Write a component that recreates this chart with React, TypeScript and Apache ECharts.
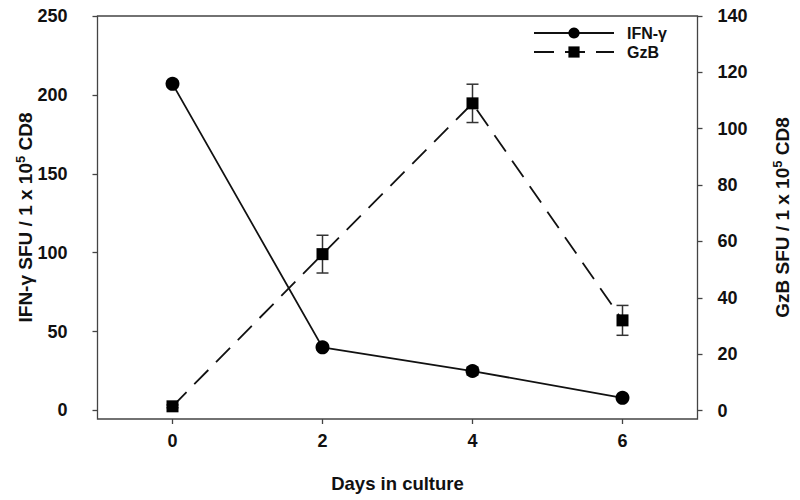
import React, { useEffect, useRef } from "react";
import * as echarts from "echarts";

const days = [0, 2, 4, 6];
const ifnValues = [207, 40, 25, 8];
const ifnErrors = [1, 1.5, 2.5, 1];
const gzbValues = [1.5, 55.5, 109, 32];
const gzbErrors = [0.5, 6.7, 6.8, 5.3];
const xTicks = [0, 2, 4, 6];
const leftTicks = [0, 50, 100, 150, 200, 250];
const rightTicks = [0, 20, 40, 60, 80, 100, 120, 140];

const FONT = "'Liberation Sans', Arial, sans-serif";

export default function App() {
  const ref = useRef<HTMLDivElement>(null);
  useEffect(() => {
    const chart = echarts.init(ref.current!, null, { renderer: "svg" });
    const errData = (vals: number[], errs: number[]) =>
      days.map((d, i) => [d, vals[i] - errs[i], vals[i] + errs[i]]);
    const errRender = (params: any, api: any) => {
      const x = api.value(0);
      const lo = api.coord([x, api.value(1)]);
      const hi = api.coord([x, api.value(2)]);
      const hw = 6;
      const style = { stroke: "#333", lineWidth: 1.5 };
      return {
        type: "group",
        children: [
          { type: "line", shape: { x1: lo[0], y1: lo[1], x2: hi[0], y2: hi[1] }, style },
          { type: "line", shape: { x1: lo[0] - hw, y1: lo[1], x2: lo[0] + hw, y2: lo[1] }, style },
          { type: "line", shape: { x1: hi[0] - hw, y1: hi[1], x2: hi[0] + hw, y2: hi[1] }, style },
        ],
      };
    };
    const labelStyle = { fontFamily: FONT, fontWeight: "bold" as const, fontSize: 18, color: "#111" };
    const nameRich = {
      b: { fontFamily: FONT, fontWeight: "bold", fontSize: 19, color: "#111", lineHeight: 24 },
      sup: { fontFamily: FONT, fontWeight: "bold", fontSize: 13, color: "#111", verticalAlign: "top", lineHeight: 24 },
    };
    const tickStyle = { color: "#444", width: 1.3 };
    chart.setOption({
      animation: false,
      grid: { left: 97.5, right: 96, top: 16, bottom: 81, show: true, borderColor: "#444", borderWidth: 1.3, backgroundColor: "transparent" },
      legend: {
        data: ["IFN-γ", "GzB"],
        orient: "vertical",
        left: 528,
        top: 20,
        itemWidth: 80,
        itemHeight: 14,
        itemGap: 3,
        textStyle: { ...labelStyle, fontSize: 16, padding: [0, 0, 0, 8] },
      },
      xAxis: {
        type: "value",
        min: -1,
        max: 7,
        name: "Days in culture",
        nameLocation: "middle",
        nameGap: 55,
        nameMoveOverlap: false,
        nameTextStyle: { ...labelStyle, fontSize: 18.5 },
        axisLine: { show: false, onZero: false },
        splitLine: { show: false },
        axisTick: { show: true, length: 5, customValues: xTicks, lineStyle: tickStyle },
        axisLabel: { ...labelStyle, margin: 13, customValues: xTicks },
      },
      yAxis: [
        {
          type: "value",
          min: -5.4,
          max: 250,
          position: "left",
          name: "{b|IFN-γ SFU / 1 x 10}{sup|5}{b| CD8}",
          nameLocation: "middle",
          nameRotate: 90,
          nameGap: 60,
          nameMoveOverlap: false,
          nameTextStyle: { rich: nameRich },
          axisLine: { show: false, onZero: false },
          splitLine: { show: false },
          axisTick: { show: true, length: 5, customValues: leftTicks, lineStyle: tickStyle },
          axisLabel: { ...labelStyle, margin: 30, customValues: leftTicks },
        },
        {
          type: "value",
          min: -3,
          max: 140,
          position: "right",
          name: "{b|GzB SFU / 1 x 10}{sup|5}{b| CD8}",
          nameLocation: "middle",
          nameRotate: 90,
          nameGap: 73,
          nameMoveOverlap: false,
          nameTextStyle: { rich: nameRich },
          axisLine: { show: false, onZero: false },
          splitLine: { show: false },
          axisTick: { show: true, length: 5, customValues: rightTicks, lineStyle: tickStyle },
          axisLabel: { ...labelStyle, margin: 20, customValues: rightTicks },
        },
      ],
      series: [
        {
          type: "custom",
          name: "ifnErr",
          yAxisIndex: 0,
          renderItem: errRender,
          data: errData(ifnValues, ifnErrors),
          encode: { x: 0, y: [1, 2] },
          z: 1,
        },
        {
          type: "custom",
          name: "gzbErr",
          yAxisIndex: 1,
          renderItem: errRender,
          data: errData(gzbValues, gzbErrors),
          encode: { x: 0, y: [1, 2] },
          z: 1,
        },
        {
          type: "line",
          name: "IFN-γ",
          yAxisIndex: 0,
          data: days.map((d, i) => [d, ifnValues[i]]),
          symbol: "circle",
          symbolSize: 14,
          itemStyle: { color: "#000" },
          lineStyle: { color: "#111", width: 1.8, type: "solid" },
          z: 3,
        },
        {
          type: "line",
          name: "GzB",
          yAxisIndex: 1,
          data: days.map((d, i) => [d, gzbValues[i]]),
          symbol: "rect",
          symbolSize: 12,
          itemStyle: { color: "#000" },
          lineStyle: { color: "#111", width: 1.8, type: [20, 11] },
          z: 3,
        },
      ],
    });
    return () => chart.dispose();
  }, []);
  return <div ref={ref} style={{ width: 800, height: 500, position: "absolute", left: 0, top: 0, background: "#fff" }} />;
}
